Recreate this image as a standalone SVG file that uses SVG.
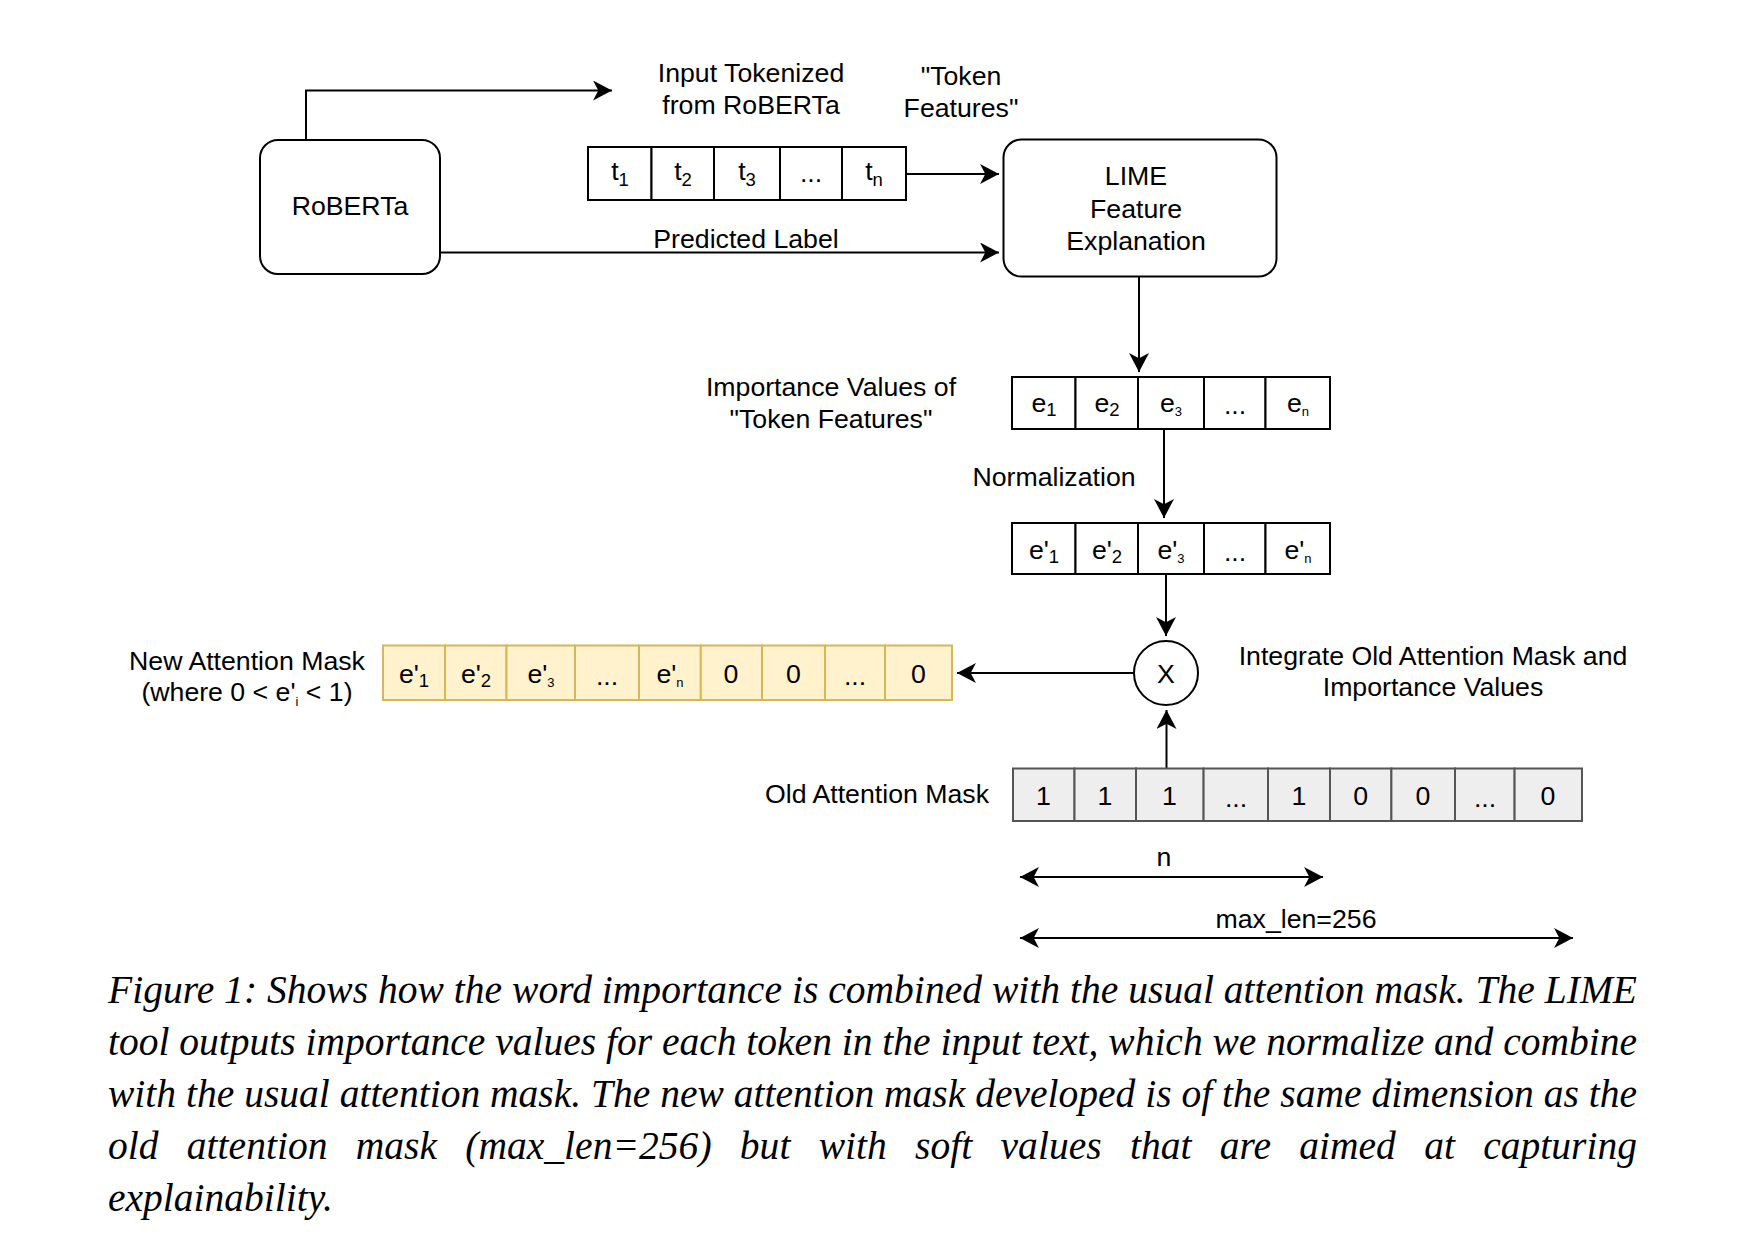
<svg xmlns="http://www.w3.org/2000/svg" width="1758" height="1250" viewBox="0 0 1758 1250">
<defs>
<marker id="arr" markerUnits="userSpaceOnUse" markerWidth="20" markerHeight="20" viewBox="0 0 18 19" refX="18" refY="9.5" orient="auto-start-reverse">
<path d="M0,0 L18,9.5 L0,19 L5,9.5 Z" fill="#000"/>
</marker>
<style>
.lbl{font-family:"Liberation Sans",Arial,Helvetica,sans-serif;font-size:26.7px;fill:#000;text-anchor:middle}
.cell{fill:#fff;stroke:#000;stroke-width:2}
.ycell{fill:#fff2cc;stroke:#d6b656;stroke-width:2}
.gcell{fill:#eeeeee;stroke:#555;stroke-width:2}
.node{fill:#fff;stroke:#000;stroke-width:2}
.conn{fill:none;stroke:#000;stroke-width:2}
.sub{font-size:18.5px}
.ssub{font-size:13px}
.cap{font-family:"Liberation Serif","Times New Roman",serif;font-style:italic;font-size:39.5px;fill:#000}
</style>
</defs>
<rect width="1758" height="1250" fill="#fff"/>

<g id="connectors">
<polyline class="conn" points="306,140 306,90.5 612,90.5" marker-end="url(#arr)"/>
<line class="conn" x1="906" y1="174" x2="999" y2="174" marker-end="url(#arr)"/>
<line class="conn" x1="440" y1="252.5" x2="999" y2="252.5" marker-end="url(#arr)"/>
<line class="conn" x1="1139" y1="277" x2="1139" y2="372" marker-end="url(#arr)"/>
<line class="conn" x1="1164" y1="429" x2="1164" y2="518" marker-end="url(#arr)"/>
<line class="conn" x1="1166" y1="574" x2="1166" y2="636" marker-end="url(#arr)"/>
<line class="conn" x1="1134" y1="673" x2="957" y2="673" marker-end="url(#arr)"/>
<line class="conn" x1="1166.5" y1="768.5" x2="1166.5" y2="710" marker-end="url(#arr)"/>
<line class="conn" x1="1020" y1="877" x2="1323" y2="877" marker-start="url(#arr)" marker-end="url(#arr)"/>
<line class="conn" x1="1020" y1="938" x2="1573" y2="938" marker-start="url(#arr)" marker-end="url(#arr)"/>
</g>

<g id="roberta">
<rect class="node" x="260" y="140" width="180" height="134" rx="18"/>
<text class="lbl" x="350" y="215">RoBERTa</text>
</g>

<g id="label-input-tokenized">
<text class="lbl" x="751" y="82">Input Tokenized</text>
<text class="lbl" x="751" y="114">from RoBERTa</text>
</g>

<g id="label-token-features">
<text class="lbl" x="961" y="85">"Token</text>
<text class="lbl" x="961" y="117">Features"</text>
</g>

<g id="tokens">
<rect class="cell" x="588" y="147" width="63.5" height="53"/>
<rect class="cell" x="651.5" y="147" width="62.5" height="53"/>
<rect class="cell" x="714" y="147" width="66" height="53"/>
<rect class="cell" x="780" y="147" width="62" height="53"/>
<rect class="cell" x="842" y="147" width="64" height="53"/>
<text class="lbl" x="620" y="180">t<tspan class="sub" dy="6">1</tspan></text>
<text class="lbl" x="683" y="180">t<tspan class="sub" dy="6">2</tspan></text>
<text class="lbl" x="747" y="180">t<tspan class="sub" dy="6">3</tspan></text>
<text class="lbl" x="811" y="182">...</text>
<text class="lbl" x="874" y="180">t<tspan class="sub" dy="6">n</tspan></text>
</g>

<g id="label-predicted">
<text class="lbl" x="746" y="248">Predicted Label</text>
</g>

<g id="lime">
<rect class="node" x="1003.5" y="139.5" width="273" height="137" rx="18"/>
<text class="lbl" x="1136" y="185">LIME</text>
<text class="lbl" x="1136" y="217.5">Feature</text>
<text class="lbl" x="1136" y="250">Explanation</text>
</g>

<g id="label-importance">
<text class="lbl" x="831" y="396">Importance Values of</text>
<text class="lbl" x="831" y="428">"Token Features"</text>
</g>

<g id="importance-values">
<rect class="cell" x="1012" y="377" width="63.5" height="52"/>
<rect class="cell" x="1075.5" y="377" width="62.5" height="52"/>
<rect class="cell" x="1138" y="377" width="66" height="52"/>
<rect class="cell" x="1204" y="377" width="61.5" height="52"/>
<rect class="cell" x="1265.5" y="377" width="64.5" height="52"/>
<text class="lbl" x="1044" y="412">e<tspan class="sub" dy="4">1</tspan></text>
<text class="lbl" x="1107" y="412">e<tspan class="sub" dy="4">2</tspan></text>
<text class="lbl" x="1171" y="412">e<tspan class="ssub" dy="4">3</tspan></text>
<text class="lbl" x="1235" y="414">...</text>
<text class="lbl" x="1298" y="412">e<tspan class="ssub" dy="4">n</tspan></text>
</g>

<g id="label-normalization">
<text class="lbl" x="1054" y="486">Normalization</text>
</g>

<g id="normalized-values">
<rect class="cell" x="1012" y="523" width="63.5" height="51"/>
<rect class="cell" x="1075.5" y="523" width="62.5" height="51"/>
<rect class="cell" x="1138" y="523" width="66" height="51"/>
<rect class="cell" x="1204" y="523" width="61.5" height="51"/>
<rect class="cell" x="1265.5" y="523" width="64.5" height="51"/>
<text class="lbl" x="1044" y="559">e'<tspan class="sub" dy="4">1</tspan></text>
<text class="lbl" x="1107" y="559">e'<tspan class="sub" dy="4">2</tspan></text>
<text class="lbl" x="1171" y="559">e'<tspan class="ssub" dy="4">3</tspan></text>
<text class="lbl" x="1235" y="561">...</text>
<text class="lbl" x="1298" y="559">e'<tspan class="ssub" dy="4">n</tspan></text>
</g>

<g id="multiply">
<circle class="node" cx="1166" cy="673" r="32"/>
<text class="lbl" x="1166" y="683">X</text>
</g>

<g id="label-integrate">
<text class="lbl" x="1433" y="665">Integrate Old Attention Mask and</text>
<text class="lbl" x="1433" y="696">Importance Values</text>
</g>

<g id="label-new-mask">
<text class="lbl" x="247" y="670">New Attention Mask</text>
<text class="lbl" x="247" y="701">(where 0 &lt; e'<tspan class="ssub" dy="5">i</tspan><tspan dy="-5"> &lt; 1)</tspan></text>
</g>

<g id="new-attention-mask">
<rect class="ycell" x="383" y="645.5" width="62" height="54.5"/>
<rect class="ycell" x="445" y="645.5" width="61.5" height="54.5"/>
<rect class="ycell" x="506.5" y="645.5" width="68.5" height="54.5"/>
<rect class="ycell" x="575" y="645.5" width="64" height="54.5"/>
<rect class="ycell" x="639" y="645.5" width="61.8" height="54.5"/>
<rect class="ycell" x="700.8" y="645.5" width="61.2" height="54.5"/>
<rect class="ycell" x="762" y="645.5" width="63" height="54.5"/>
<rect class="ycell" x="825" y="645.5" width="60" height="54.5"/>
<rect class="ycell" x="885" y="645.5" width="67" height="54.5"/>
<text class="lbl" x="414" y="683">e'<tspan class="sub" dy="4">1</tspan></text>
<text class="lbl" x="476" y="683">e'<tspan class="sub" dy="4">2</tspan></text>
<text class="lbl" x="541" y="683">e'<tspan class="ssub" dy="4">3</tspan></text>
<text class="lbl" x="607" y="685">...</text>
<text class="lbl" x="670" y="683">e'<tspan class="ssub" dy="4">n</tspan></text>
<text class="lbl" x="731" y="683">0</text>
<text class="lbl" x="793.5" y="683">0</text>
<text class="lbl" x="855" y="685">...</text>
<text class="lbl" x="918.5" y="683">0</text>
</g>

<g id="label-old-mask">
<text class="lbl" x="877" y="803">Old Attention Mask</text>
</g>

<g id="old-attention-mask">
<rect class="gcell" x="1013" y="768.5" width="61.5" height="52.5"/>
<rect class="gcell" x="1074.5" y="768.5" width="61.5" height="52.5"/>
<rect class="gcell" x="1136" y="768.5" width="67.6" height="52.5"/>
<rect class="gcell" x="1203.6" y="768.5" width="64.4" height="52.5"/>
<rect class="gcell" x="1268" y="768.5" width="62" height="52.5"/>
<rect class="gcell" x="1330" y="768.5" width="61.4" height="52.5"/>
<rect class="gcell" x="1391.4" y="768.5" width="63.6" height="52.5"/>
<rect class="gcell" x="1455" y="768.5" width="59.6" height="52.5"/>
<rect class="gcell" x="1514.6" y="768.5" width="67.4" height="52.5"/>
<text class="lbl" x="1043.5" y="804.5">1</text>
<text class="lbl" x="1105" y="804.5">1</text>
<text class="lbl" x="1169.5" y="804.5">1</text>
<text class="lbl" x="1236" y="806.5">...</text>
<text class="lbl" x="1299" y="804.5">1</text>
<text class="lbl" x="1360.7" y="804.5">0</text>
<text class="lbl" x="1423" y="804.5">0</text>
<text class="lbl" x="1485" y="806.5">...</text>
<text class="lbl" x="1548" y="804.5">0</text>
</g>

<g id="dimension-labels">
<text class="lbl" x="1164" y="866">n</text>
<text class="lbl" x="1296" y="928">max_len=256</text>
</g>

<g id="caption">
<text class="cap" x="108" y="1003" textLength="1529" lengthAdjust="spacing">Figure 1: Shows how the word importance is combined with the usual attention mask. The LIME</text>
<text class="cap" x="108" y="1055" textLength="1529" lengthAdjust="spacing">tool outputs importance values for each token in the input text, which we normalize and combine</text>
<text class="cap" x="108" y="1107" textLength="1529" lengthAdjust="spacing">with the usual attention mask. The new attention mask developed is of the same dimension as the</text>
<text class="cap" x="108" y="1159" word-spacing="18.4" textLength="1529" lengthAdjust="spacing">old attention mask (max_len=256) but with soft values that are aimed at capturing</text>
<text class="cap" x="108" y="1211">explainability.</text>
</g>
</svg>
